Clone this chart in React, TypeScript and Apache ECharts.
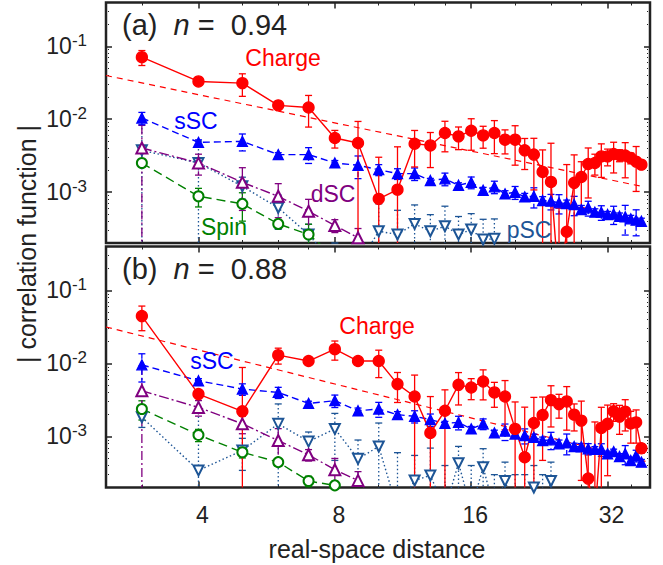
import React, { useEffect, useRef } from 'react';
import * as echarts from 'echarts';

const FONT = '"Liberation Sans", Arial, Helvetica, sans-serif';

// ---------- axis settings ----------
const X_MIN = 2.5;
const X_MAX = 39.7;
const Y_MIN = 2e-4;
const Y_MAX = 0.4;
const xMajorTicks = [4, 8, 16, 32];
const xMinorTicks = [3, 5, 6, 7, 10, 12, 14, 20, 24, 28, 36];
const yMajorTicks = [0.001, 0.01, 0.1];
const yMinorTicks = [3e-4, 4e-4, 5e-4, 6e-4, 7e-4, 8e-4, 9e-4, 2e-3, 3e-3, 4e-3, 5e-3, 6e-3, 7e-3, 8e-3, 9e-3, 0.02, 0.03, 0.04, 0.05, 0.06, 0.07, 0.08, 0.09, 0.2, 0.3];

// ---------- panel (a) n = 0.94 ----------
const distFull = [3, 4, 5, 6, 7, 8, 9, 10, 11, 12, 13, 14, 15, 16, 17, 18, 19, 20, 21, 22, 23, 24, 25, 26, 27, 28, 29, 30, 31, 32, 33, 34, 35, 36, 37, 38];

const chargeA = [0.0711, 0.033, 0.0313, 0.0155, 0.0145, 0.00552, 0.00472, 0.000807, 0.00108, 0.00461, 0.00437, 0.00647, 0.00582, 0.00695, 0.006, 0.00647, 0.00524, 0.00524, 0.00374, 0.00327, 0.00189, 0.00138, 0.00005, 0.000285, 0.00134, 0.00161, 0.00243, 0.00251, 0.00309, 0.00309, 0.00333, 0.00321, 0.00317, 0.00294, 0.00262, 0.00238];
const chargeErrA = [0.0165, 0.001, 0.0107, 0.0008, 0.0067, 0.0015, 0.0046, 0.0022, 0.0031, 0.0024, 0.0022, 0.0029, 0.002, 0.0032, 0.002, 0.0031, 0.0019, 0.0029, 0.0017, 0.0022, 0.0019, 0.0033, 0.00055, 0.0021, 0.0019, 0.001, 0.0016, 0.0008, 0.0015, 0.0008, 0.0015, 0.0006, 0.0016, 0.0005, 0.0016, 0.0003];

const sscA = [0.0104, 0.00481, 0.00497, 0.00327, 0.00327, 0.00251, 0.00233, 0.00203, 0.00179, 0.00179, 0.00144, 0.00152, 0.00124, 0.00136, 0.00106, 0.00118, 0.000944, 0.000993, 0.000859, 0.000875, 0.000765, 0.000749, 0.000711, 0.000696, 0.000674, 0.000575, 0.000608, 0.000529, 0.000529, 0.000492, 0.000499, 0.000466, 0.000457, 0.000429, 0.000411, 0.000398];
const sscErrA = [0.002, 0.0004, 0.0013, 0.0002, 0.0008, 0.0002, 0.0008, 0.00035, 0.0003, 0.00035, 0.0001, 0.0003, 0.0001, 0.00025, 0.0001, 0.00023, 0.0001, 0.0002, 0.0001, 0.00027, 0.0001, 0.00018, 0.00021, 0.00008, 0.0002, 0.00008, 0.00014, 0.00006, 0.00012, 0.00005, 0.00014, 0.00005, 0.0002, 0.00005, 0.00016, 0.00004];

const dscDist = [3, 4, 5, 6, 7, 8, 9, 10];
const dscA = [0.00403, 0.00251, 0.00136, 0.000875, 0.000545, 0.000348, 0.000236, 0.00012];
const dscErrA = [0.0042, 0.0008, 0.0008, 0.00043, 0.00025, 0.00007, 0.00008, 0.00005];

const spinDistA = [3, 4, 5, 6, 7, 8];
const spinA = [0.00251, 0.000875, 0.000689, 0.000366, 0.000262, 0.00013];
const spinErrA = [0.0003, 0.00025, 0.00029, 0.00005, 0.0001, 0.00003];

const pscDistA = [3, 4, 5, 6, 7, 8, 9, 10, 11, 12, 13, 14, 15, 16, 17, 18, 19];
const pscA = [0.00374, 0.00251, 0.0012, 0.000608, 0.000262, 0.0001, 0.0001, 0.00029, 0.000262, 0.000366, 0.00029, 0.00034, 0.000262, 0.000306, 0.000223, 0.000228, 0.00008];
const pscErrA = [0.006, 0.0025, 0.0004, 0.0003, 0.0001, 0.0001, 0.0001, 0.0004, 0.0003, 0.0003, 0.0002, 0.0003, 0.0002, 0.0002, 0.0002, 0.0002, 0.0001];

const fitDistA = [2.5, 38];
const fitA = [0.0398, 0.0012];

// ---------- panel (b) n = 0.88 ----------
const chargeB = [0.0446, 0.00381, 0.00221, 0.013, 0.0108, 0.0157, 0.0108, 0.0108, 0.00522, 0.00353, 0.00112, 0.00225, 0.0051, 0.00469, 0.00567, 0.00401, 0.00353, 0.00127, 0.00052, 0.00153, 0.00197, 0.00315, 0.00278, 0.00302, 0.00199, 0.00165, 0.000265, 0.00008, 0.00131, 0.00149, 0.00221, 0.00187, 0.00219, 0.00151, 0.00156, 0.00069];
const chargeErrB = [0.0165, 0.0004, 0.0066, 0.0032, 0.0012, 0.0046, 0.0012, 0.0044, 0.0023, 0.0034, 0.0024, 0.0021, 0.0024, 0.0015, 0.0025, 0.0015, 0.0023, 0.0017, 0.002, 0.0019, 0.0015, 0.0018, 0.001, 0.0018, 0.0008, 0.0014, 0.0004, 0.0015, 0.0012, 0.0012, 0.0006, 0.0008, 0.001, 0.0007, 0.00075, 0.0001];

const sscB = [0.00957, 0.0058, 0.00446, 0.00401, 0.00284, 0.00309, 0.00225, 0.00238, 0.00199, 0.00189, 0.0017, 0.00151, 0.00156, 0.00127, 0.00149, 0.00112, 0.00118, 0.00108, 0.00103, 0.000975, 0.00088, 0.0009, 0.000793, 0.00082, 0.000728, 0.00072, 0.000678, 0.000665, 0.000665, 0.00058, 0.00062, 0.000532, 0.00058, 0.000469, 0.000548, 0.000445];
const sscErrB = [0.004, 0.0004, 0.0008, 0.0007, 0.0002, 0.0006, 0.0002, 0.00055, 0.0002, 0.00036, 0.00033, 0.0001, 0.00033, 0.0001, 0.00025, 0.0001, 0.0003, 0.0001, 0.00024, 0.0001, 0.0001, 0.00024, 0.0001, 0.00026, 0.00008, 0.00008, 0.00012, 0.00006, 0.00013, 0.00005, 0.00005, 0.00005, 0.00017, 0.00005, 0.0001, 0.00004];

const dscB = [0.00423, 0.0025, 0.00149, 0.00088, 0.000561, 0.00035, 0.00025, 0.00012];
const dscErrB = [0.005, 0.0006, 0.0004, 0.0004, 0.0001, 0.00015, 0.00008, 0.00005];

const spinDistB = [3, 4, 5, 6, 7, 8, 9];
const spinB = [0.00238, 0.00105, 0.000608, 0.000445, 0.000245, 0.000214, 0.00012];
const spinErrB = [0.0007, 0.0002, 0.0001, 0.00005, 0.00004, 0.00003, 0.00003];

const pscDistB = [3, 4, 5, 6, 7, 8, 9, 10, 11, 12, 13, 14, 15, 16, 17, 18, 19, 20, 21, 22, 23, 24, 25];
const pscB = [0.00183, 0.000343, 0.000643, 0.00149, 0.000851, 0.00127, 0.000494, 0.000728, 0.0001, 0.00025, 0.000293, 0.0001, 0.000431, 0.0001, 0.00038, 0.0001, 0.000245, 0.0001, 0.0001, 0.0002, 0.0001, 0.000245, 0.00008];
const pscErrB = [0.0005, 0.0055, 0.0003, 0.0013, 0.0003, 0.0008, 0.0004, 0.0008, 0.0005, 0.0003, 0.0004, 0.0003, 0.0003, 0.0003, 0.0003, 0.0002, 0.0002, 0.0002, 0.0002, 0.0002, 0.0002, 0.0002, 0.0001];

const fitDistB = [2.5, 39.4];
const fitB = [0.0316, 0.000445];

// ---------- colors ----------
const RED = '#ff0000';
const BLUE = '#0000ff';
const PURPLE = '#800080';
const GREEN = '#008000';
const PSC = '#1d5596';
const FRAME = '#222222';

const pair = (xs: number[], ys: number[]) => xs.map((x, i) => [x, ys[i]]);
const triple = (xs: number[], ys: number[], es: number[]) => xs.map((x, i) => [x, ys[i], es[i]]);

export default function App() {
  const ref = useRef<HTMLDivElement>(null);

  useEffect(() => {
    if (!ref.current) return;
    document.body.style.margin = '0';
    const chart = echarts.init(ref.current, undefined, { renderer: 'svg' });

    const grids = [
      { left: 106, top: 2.5, width: 544, height: 240.5 },
      { left: 106, top: 246.5, width: 544, height: 241 },
    ];

    const xAxes: any[] = [];
    const yAxes: any[] = [];
    grids.forEach((_, gi) => {
      const baseX = {
        type: 'log', logBase: 2, min: X_MIN, max: X_MAX, gridIndex: gi,
        axisLine: { show: false }, splitLine: { show: false },
      };
      const baseY = {
        type: 'log', logBase: 10, min: Y_MIN, max: Y_MAX, gridIndex: gi,
        axisLine: { show: false }, splitLine: { show: false },
      };
      xAxes.push({
        ...baseX, position: 'bottom',
        axisTick: { show: true, inside: true, length: 6, customValues: xMajorTicks, lineStyle: { color: FRAME, width: 1.5 } },
        axisLabel: gi === 1 ? {
          show: true, customValues: xMajorTicks, margin: 16, color: '#222', fontFamily: FONT, fontSize: 23,
          padding: [0, 0, 0, 8],
          formatter: (v: number) => String(Math.round(v)),
        } : { show: false },
      });
      xAxes.push({ ...baseX, position: 'top', axisTick: { show: true, inside: true, length: 6, customValues: xMajorTicks, lineStyle: { color: FRAME, width: 1.5 } }, axisLabel: { show: false } });
      xAxes.push({ ...baseX, position: 'bottom', axisTick: { show: true, inside: true, length: 3, customValues: xMinorTicks, lineStyle: { color: FRAME, width: 1 } }, axisLabel: { show: false } });
      xAxes.push({ ...baseX, position: 'top', axisTick: { show: true, inside: true, length: 3, customValues: xMinorTicks, lineStyle: { color: FRAME, width: 1 } }, axisLabel: { show: false } });

      yAxes.push({
        ...baseY, position: 'left',
        axisTick: { show: true, inside: true, length: 6, customValues: yMajorTicks, lineStyle: { color: FRAME, width: 1.5 } },
        axisLabel: {
          show: true, customValues: yMajorTicks, margin: 19, color: '#222', fontFamily: FONT,
          formatter: (v: number) => `{b|10}{s|${Math.round(Math.log10(v))}}`,
          rich: {
            b: { fontSize: 23, fontFamily: FONT, color: '#222', lineHeight: 23 },
            s: { fontSize: 17, fontFamily: FONT, color: '#222', lineHeight: 17, padding: [0, 0, 12, 0] },
          },
        },
      });
      yAxes.push({ ...baseY, position: 'right', axisTick: { show: true, inside: true, length: 6, customValues: yMajorTicks, lineStyle: { color: FRAME, width: 1.5 } }, axisLabel: { show: false } });
      yAxes.push({ ...baseY, position: 'left', axisTick: { show: true, inside: true, length: 3, customValues: yMinorTicks, lineStyle: { color: FRAME, width: 1, type: [1, 1] } }, axisLabel: { show: false } });
      yAxes.push({ ...baseY, position: 'right', axisTick: { show: true, inside: true, length: 3, customValues: yMinorTicks, lineStyle: { color: FRAME, width: 1, type: [1, 1] } }, axisLabel: { show: false } });
    });

    const errBars = (gi: number, data: number[][], color: string, dash: any) => ({
      type: 'custom',
      xAxisIndex: gi * 4, yAxisIndex: gi * 4,
      data, z: 2, silent: true,
      renderItem: (params: any, api: any) => {
        const x = api.value(0);
        const v = api.value(1);
        const e = api.value(2);
        const cs = params.coordSys;
        const top = cs.y;
        const bottom = cs.y + cs.height;
        const pTop = api.coord([x, v + e]);
        const cx = pTop[0];
        const yTop = pTop[1];
        const lo = v - e;
        const yBot = lo > 0 ? api.coord([x, lo])[1] : Infinity;
        const children: any[] = [];
        const y1 = Math.max(yTop, top);
        const y2 = Math.min(yBot, bottom);
        if (y1 < y2) {
          children.push({ type: 'line', shape: { x1: cx, y1, x2: cx, y2 }, style: { stroke: color, lineWidth: 1.3, lineDash: dash } });
        }
        const cap = 3.5;
        if (yTop >= top && yTop <= bottom) children.push({ type: 'line', shape: { x1: cx - cap, y1: yTop, x2: cx + cap, y2: yTop }, style: { stroke: color, lineWidth: 1.3 } });
        if (yBot >= top && yBot <= bottom) children.push({ type: 'line', shape: { x1: cx - cap, y1: yBot, x2: cx + cap, y2: yBot }, style: { stroke: color, lineWidth: 1.3 } });
        return { type: 'group', children };
      },
    });

    const lineS = (gi: number, data: number[][], color: string, dash: any, symbol: string, size: number, extra: any = {}) => ({
      type: 'line', xAxisIndex: gi * 4, yAxisIndex: gi * 4, data,
      symbol, symbolSize: size, showSymbol: true, z: 3,
      lineStyle: { color, width: 1.4, type: dash },
      itemStyle: { color, borderColor: color, borderWidth: 1.3 },
      clip: true, silent: true,
      ...extra,
    });

    const fitS = (gi: number, data: number[][]) => ({
      type: 'line', xAxisIndex: gi * 4, yAxisIndex: gi * 4, data, symbol: 'none', z: 1,
      lineStyle: { color: RED, width: 1.2, type: [6, 5] }, silent: true,
    });

    const series: any[] = [
      fitS(0, pair(fitDistA, fitA)),
      errBars(0, triple(pscDistA, pscA, pscErrA), PSC, [1.5, 2.5]),
      errBars(0, triple(spinDistA, spinA, spinErrA), GREEN, null),
      errBars(0, triple(dscDist, dscA, dscErrA), PURPLE, [9, 3, 2, 3]),
      errBars(0, triple(distFull, sscA, sscErrA), BLUE, [5, 3]),
      errBars(0, triple(distFull, chargeA, chargeErrA), RED, null),
      lineS(0, pair(pscDistA, pscA), PSC, [1.5, 2.5], 'emptyTriangle', 10, { symbolRotate: 180 }),
      lineS(0, pair(spinDistA, spinA), GREEN, [9, 5], 'emptyCircle', 10),
      lineS(0, pair(dscDist, dscA), PURPLE, [10, 3, 2, 3], 'emptyTriangle', 11),
      lineS(0, pair(distFull, sscA), BLUE, [7, 4], 'triangle', 10),
      lineS(0, pair(distFull, chargeA), RED, 'solid', 'circle', 11),

      fitS(1, pair(fitDistB, fitB)),
      errBars(1, triple(pscDistB, pscB, pscErrB), PSC, [1.5, 2.5]),
      errBars(1, triple(spinDistB, spinB, spinErrB), GREEN, null),
      errBars(1, triple(dscDist, dscB, dscErrB), PURPLE, [9, 3, 2, 3]),
      errBars(1, triple(distFull, sscB, sscErrB), BLUE, [5, 3]),
      errBars(1, triple(distFull, chargeB, chargeErrB), RED, null),
      lineS(1, pair(pscDistB, pscB), PSC, [1.5, 2.5], 'emptyTriangle', 10, { symbolRotate: 180 }),
      lineS(1, pair(spinDistB, spinB), GREEN, [9, 5], 'emptyCircle', 10),
      lineS(1, pair(dscDist, dscB), PURPLE, [10, 3, 2, 3], 'emptyTriangle', 11),
      lineS(1, pair(distFull, sscB), BLUE, [7, 4], 'triangle', 10),
      lineS(1, pair(distFull, chargeB), RED, 'solid', 'circle', 11),
    ];

    const label = (text: string, x: number, y: number, fill: string, size = 23) => ({
      type: 'text', x, y, z: 10, silent: true,
      style: { text, fill, font: `${size}px ${FONT}`, align: 'center', verticalAlign: 'middle' },
    });
    const panelLabel = (tag: string, val: string, x: number, y: number) => ({
      type: 'text', x, y, z: 10, silent: true,
      style: {
        text: `{t|${tag}  }{i|n}{t| =  ${val}}`,
        align: 'left', verticalAlign: 'middle', fill: '#222',
        rich: {
          t: { fontSize: 29, fontFamily: FONT, fill: '#222' },
          i: { fontSize: 29, fontFamily: FONT, fontStyle: 'italic', fill: '#222' },
        },
      },
    });

    const graphic: any[] = [
      panelLabel('(a)', '0.94', 122, 25),
      panelLabel('(b)', '0.88', 122, 269),
      label('Charge', 283, 58, RED),
      label('sSC', 196, 121, BLUE),
      label('dSC', 333, 194, PURPLE),
      label('Spin', 224, 227, GREEN),
      label('pSC', 529, 230, PSC),
      label('Charge', 377, 326, RED),
      label('sSC', 212, 361, BLUE),
      {
        type: 'text', x: 27, y: 244, rotation: Math.PI / 2, z: 10, silent: true,
        style: { text: '| correlation function |', fill: '#222', font: `25px ${FONT}`, align: 'center', verticalAlign: 'middle' },
      },
      label('real-space distance', 377, 549, '#222', 25),
    ];

    chart.setOption({
      animation: false,
      backgroundColor: '#ffffff',
      grid: grids.map((g) => ({ ...g, show: true, borderColor: FRAME, borderWidth: 2.5, containLabel: false, outerBoundsMode: 'none' })),
      xAxis: xAxes,
      yAxis: yAxes,
      series,
      graphic,
    });

    return () => chart.dispose();
  }, []);

  return <div ref={ref} style={{ width: 663, height: 565 }} />;
}
